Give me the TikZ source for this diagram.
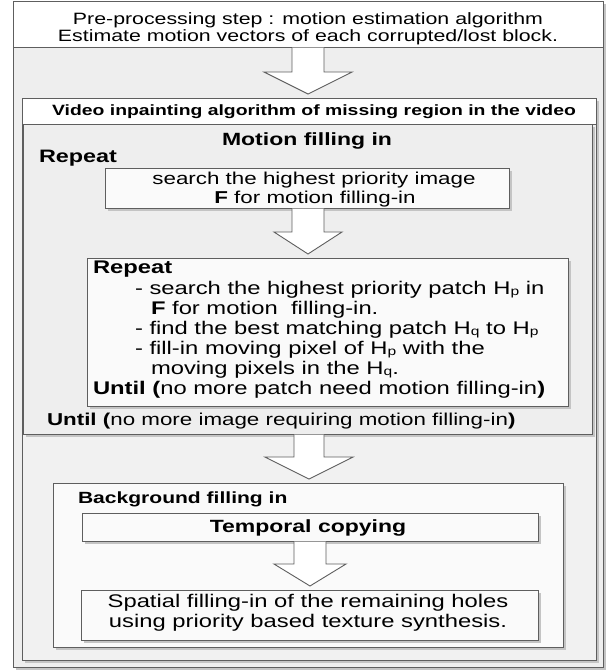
\documentclass[tikz,border=0pt]{standalone}
\usepackage{fontspec}
\setmainfont{Liberation Sans}[FakeStretch=1.3]
\usetikzlibrary{calc,shadows}

\definecolor{linegray}{HTML}{5E5E5E}
\definecolor{framefill}{HTML}{EEEEEE}
\definecolor{panefill}{HTML}{F1F1F1}
\definecolor{boxfill}{HTML}{FAFAFA}
\definecolor{shadowgray}{HTML}{C4C4C4}

% subscript letter as printed in the flow chart (small, slightly lowered)
\newcommand\subl[1]{\raisebox{-1.3pt}{\fontsize{12}{12}\selectfont #1}}
% a box given by its top-left and bottom-right corners
\newcommand\boxat[6]{%
  \node[#2, anchor=north west, minimum width={(#5-#3)*1pt},
        minimum height={(#6-#4)*1pt}] (#1) at (#3,#4) {};}
% hollow block arrow: from node, to node, centre x, shaft half width, head half width
\newcommand\blockarrow[5]{%
  \filldraw[barrow] let \p1=(#1.south), \p2=(#2.north) in
    ({(#3-#4)*1pt},{\y1-0.5pt}) -- ({(#3-#4)*1pt},{\y2+26pt})
    -- ({(#3-#5)*1pt},{\y2+26pt}) -- ({#3*1pt},{\y2+4pt})
    -- ({(#3+#5)*1pt},{\y2+26pt}) -- ({(#3+#4)*1pt},{\y2+26pt})
    -- ({(#3+#4)*1pt},{\y1-0.5pt});}

\tikzset{
  plain/.style={draw=linegray, line width=0.9pt, inner sep=0pt, outer sep=0pt, fill=#1},
  shadowed/.style={plain=#1, drop shadow={shadow xshift=2.5pt, shadow yshift=-2.5pt,
                   fill=shadowgray, opacity=1}},
  barrow/.style={draw=linegray, fill=white, line width=0.9pt, line join=miter},
  txt/.style={inner sep=0pt, outer sep=0pt, anchor=base west, text=black},
  ctxt/.style={txt, anchor=base},
}

\begin{document}
\begin{tikzpicture}[x=1pt, y=-1pt]
\useasboundingbox (0,0) rectangle (615,672);
\fill[white] (0,0) rectangle (615,672);

% frames and boxes
\boxat{outer}{shadowed=framefill}{13}{1}{603}{667}
\boxat{pre}{plain=white}{13}{1}{603}{47}
\boxat{video}{shadowed=panefill}{22}{98}{596}{660}
\boxat{title}{plain=white}{22}{98}{596}{124}
\boxat{motion}{shadowed=framefill}{23}{124}{592}{434}
\boxat{search}{shadowed=boxfill}{105}{168}{509}{208}
\boxat{patch}{shadowed=boxfill}{87}{258}{568}{406}
\boxat{background}{shadowed=boxfill}{53}{483}{563}{647}
\boxat{temporal}{shadowed=boxfill}{82}{513}{538}{541}
\boxat{spatial}{shadowed=boxfill}{81}{590}{538}{640}

% block arrows between the stages
\blockarrow{pre}{title}{308}{16}{44}
\blockarrow{search}{patch}{308}{16}{34}
\blockarrow{motion}{background}{309}{15}{44}
\blockarrow{temporal}{spatial}{310}{16}{36}

% pre-processing
\node[ctxt, font=\fontsize{16.4}{19}\selectfont] (pre1) at (308,24)
  {Pre-processing step : motion estimation algorithm};
\node[ctxt, font=\fontsize{16.4}{19}\selectfont] (pre2) at (308,41)
  {Estimate motion vectors of each corrupted/lost block.};

% inpainting stage
\node[ctxt, font=\bfseries\fontsize{14.9}{18}\selectfont] (vtitle) at (314,115)
  {Video inpainting algorithm of missing region in the video};
\node[ctxt, font=\bfseries\fontsize{17.7}{20}\selectfont] (mtitle) at (307,145)
  {Motion filling in};
\node[txt, font=\bfseries\fontsize{18}{20}\selectfont] (rep1) at (39,162) {Repeat};
\node[ctxt, font=\fontsize{17.2}{20}\selectfont] (s1) at (314,184)
  {search the highest priority image};
\node[ctxt, font=\fontsize{17.2}{20}\selectfont] (s2) at (315,203)
  {\textbf{F} for motion filling-in};

% patch loop
\tikzset{ptxt/.style={txt, font=\fontsize{18.3}{20}\selectfont}}
\node[ptxt, font=\bfseries\fontsize{18.3}{20}\selectfont] (rep2) at (93,273) {Repeat};
\node[ptxt] (p1) at (135,294) {- search the highest priority patch H\subl{p} in};
\node[ptxt] (p2) at (151,314) {\textbf{F} for motion\ \ filling-in.};
\node[ptxt] (p3) at (135,334) {- find the best matching patch H\subl{q} to H\subl{p}};
\node[ptxt] (p4) at (135,354) {- fill-in moving pixel of H\subl{p} with the};
\node[ptxt] (p5) at (151,374) {moving pixels in the H\subl{q}.};
\node[ptxt] (until2) at (93,394)
  {\textbf{Until (}no more patch need motion filling-in\textbf{)}};

\node[txt, font=\fontsize{17.2}{20}\selectfont] (until1) at (47,425)
  {\textbf{Until (}no more image requiring motion filling-in\textbf{)}};

% background filling
\node[txt, font=\bfseries\fontsize{16.2}{20}\selectfont] (bg) at (78,503)
  {Background filling in};
\node[ctxt, font=\bfseries\fontsize{17.7}{20}\selectfont] (tc) at (308,532)
  {Temporal copying};
\node[ctxt, font=\fontsize{18.3}{20}\selectfont] (sp1) at (308,607)
  {Spatial filling-in of the remaining holes};
\node[ctxt, font=\fontsize{18.3}{20}\selectfont] (sp2) at (308,627)
  {using priority based texture synthesis.};
\end{tikzpicture}
\end{document}
